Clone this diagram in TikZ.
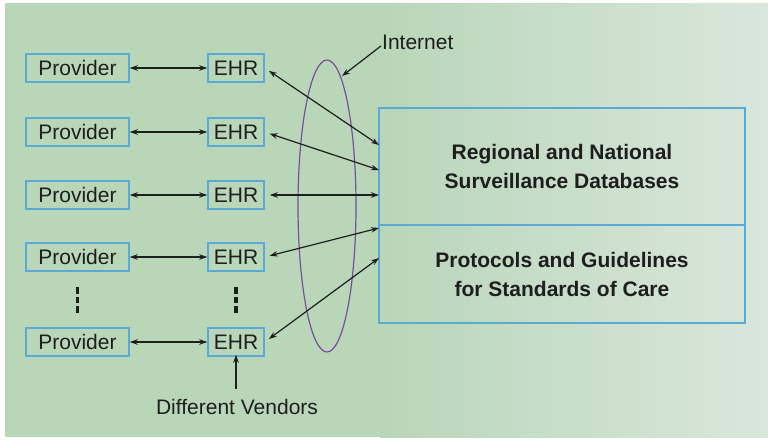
\documentclass[tikz,border=0pt]{standalone}
\usepackage{fontspec}
\setmainfont{Liberation Sans}
\usetikzlibrary{arrows.meta,calc}
\definecolor{BgLeftClr}{HTML}{B9D6B9}
\definecolor{BgRightClr}{HTML}{D9E7DB}
\definecolor{BoxClr}{HTML}{5AAAD8}
\definecolor{NetClr}{HTML}{7A4E9E}
\definecolor{TxtClr}{HTML}{1E1E1E}

\begin{document}
\begin{tikzpicture}[x=1pt,y=-1pt,
  font=\fontsize{21}{29}\selectfont,
  every node/.style={text=TxtClr},
  provbox/.style={draw=BoxClr,line width=1.5pt,minimum width=103pt,minimum height=28pt,inner sep=0pt},
  ehrbox/.style={draw=BoxClr,line width=1.5pt,minimum width=56pt,minimum height=28pt,inner sep=0pt},
  dbbox/.style={draw=BoxClr,line width=1.5pt,minimum width=366pt,inner sep=0pt,align=center,font=\fontsize{21}{29}\selectfont\bfseries},
  link/.style={line width=1.2pt,draw=TxtClr,{Stealth[length=8pt,width=5.5pt]}-{Stealth[length=8pt,width=5.5pt]}},
  pointer/.style={line width=1.2pt,draw=TxtClr,-{Stealth[length=8pt,width=5.5pt]}},
  dots/.style={line width=3.5pt,draw=TxtClr,dash pattern=on 6.5pt off 3pt}]
\useasboundingbox (0,0) rectangle (768,439);

% background
\fill[white] (0,0) rectangle (768,439);
\fill[BgLeftClr] (5,3) rectangle (381,437);
\shade[left color=BgLeftClr,right color=BgRightClr] (380,3) rectangle (768,437);

% internet
\draw[NetClr,line width=1.2pt] (327,206) ellipse [x radius=29,y radius=146];

% providers and their EHRs
\foreach \i/\y in {1/68,2/132,3/195,4/257,5/342}{
  \node[provbox] (prov\i) at (77.5,\y) {Provider};
  \node[ehrbox] (ehr\i) at (236,\y) {EHR};
  \draw[link] (prov\i.east) -- (ehr\i.west);
}

\draw[dots] (77.5,287) -- (77.5,313);
\draw[dots] (236,287) -- (236,313);

% databases
\node[dbbox,minimum height=117pt] (db) at (562,166.5) {Regional and National\\Surveillance Databases};
\node[dbbox,minimum height=98pt] (proto) at (562,274) {Protocols and Guidelines\\for Standards of Care};

\coordinate (in1) at (379,145);
\coordinate (in2) at (379,170);
\coordinate (in3) at (379,195);
\coordinate (in4) at (379,228);
\coordinate (in5) at (379,258);

\foreach \i in {1,...,5}
  \draw[link,shorten <=5pt] (ehr\i.east) -- (in\i);

% labels
\node[anchor=west,inner sep=0pt] (lblnet) at (382,42) {Internet};
\coordinate (netpt) at (342,76);
\draw[pointer] ($(lblnet.west)+(-1,4)$) -- (netpt);

\node[inner sep=0pt] (vendors) at (237,407) {Different Vendors};
\draw[pointer] ($(vendors.north)+(-1,-10)$) -- ($(ehr5.south)+(0,-2)$);

\end{tikzpicture}
\end{document}
